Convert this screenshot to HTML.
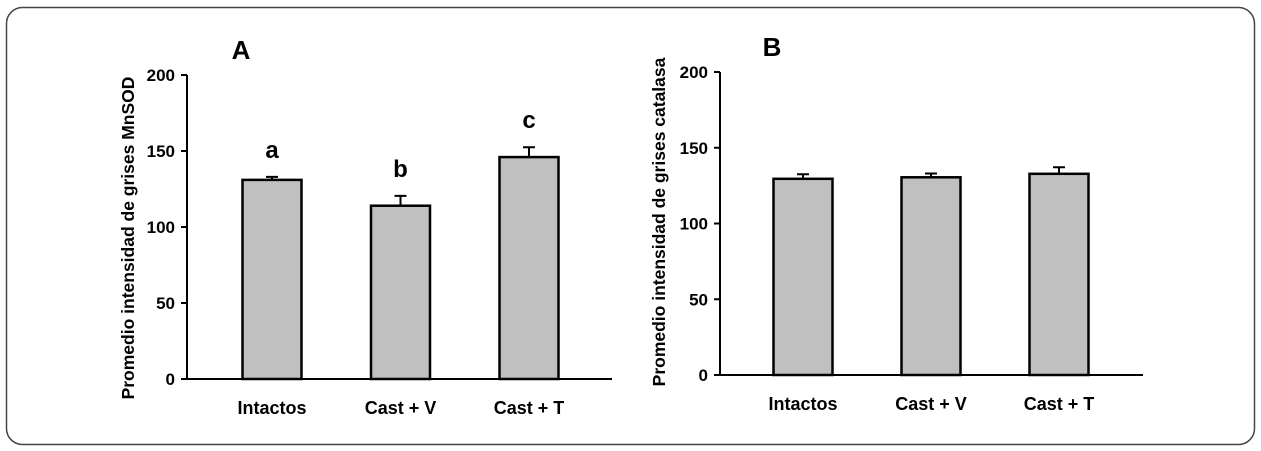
<!DOCTYPE html>
<html><head><meta charset="utf-8"><style>
html,body{margin:0;padding:0;background:#fff;}
svg{display:block;font-family:"Liberation Sans",Arial,sans-serif;font-weight:bold;}
</style></head><body>
<svg id="s" width="1261" height="451" xmlns="http://www.w3.org/2000/svg">
<rect x="6.5" y="7.5" width="1248" height="437" rx="16" fill="#fff" stroke="#444" stroke-width="1.5"/>
<g id="gA"></g>
<g id="gB"></g>
</svg>
<script>
const categories = ["Intactos", "Cast + V", "Cast + T"];
const valuesA = [131, 114, 146];
const errorsA = [2, 6.5, 6.5];
const lettersA = ["a", "b", "c"];
const valuesB = [129.5, 130.5, 132.8];
const errorsB = [3, 2.5, 4.3];
const yTicks = [0, 50, 100, 150, 200];
const NS = "http://www.w3.org/2000/svg";
function mk(parent, tag, attrs, text) {
  const e = document.createElementNS(NS, tag);
  for (const k in attrs) e.setAttribute(k, attrs[k]);
  if (text !== undefined) e.textContent = text;
  parent.appendChild(e);
  return e;
}
function draw(g, cfg, values, errors, letters, title, ylabel) {
  const y = v => cfg.y0 - (v / 200) * (cfg.y0 - cfg.y200);
  const bw = 59;
  const xc = i => cfg.c0 + i * cfg.step;
  let e = mk(g, "line", {x1: cfg.ax, y1: cfg.y200, x2: cfg.ax, y2: cfg.y0 + 1, stroke: "#000", "stroke-width": 2});
  
  
  e = mk(g, "line", {x1: cfg.ax - 1, y1: cfg.y0, x2: cfg.xend, y2: cfg.y0, stroke: "#000", "stroke-width": 2});
  
  
  yTicks.forEach(t => {
    const tk = mk(g, "line", {x1: cfg.ax - 6, y1: y(t), x2: cfg.ax, y2: y(t), stroke: "#000", "stroke-width": 2});
    
    
    const tl = mk(g, "text", {x: cfg.ax - 12, y: y(t) + 6, "text-anchor": "end", "font-size": 17}, String(t));
    
    
  });
  values.forEach((v, i) => {
    const cx = xc(i);
    const eb = mk(g, "path", {d: `M${cx},${y(v)} V${y(v + errors[i])} M${cx - 6},${y(v + errors[i])} H${cx + 6}`, stroke: "#000", "stroke-width": 2, fill: "none"});
    
    
    const b = mk(g, "rect", {x: cx - bw / 2, y: y(v), width: bw, height: y(0) - y(v), fill: "#c0c0c0", stroke: "#000", "stroke-width": 2.5});
    
    
    const xl = mk(g, "text", {x: cx, y: cfg.y0 + 35, "text-anchor": "middle", "font-size": 18}, categories[i]);
    
    
    if (letters) {
      const lt = mk(g, "text", {x: cx, y: y(v + errors[i]) - 19, "text-anchor": "middle", "font-size": 24}, letters[i]);
      
      
    }
  });
  const tt = mk(g, "text", {x: cfg.titleX, y: cfg.titleY, "text-anchor": "middle", "font-size": 26}, title);
  
  
  const yl = mk(g, "text", {x: 0, y: 0, "text-anchor": "middle", "font-size": 17.5, transform: `translate(${cfg.ylx},${cfg.yly}) rotate(-90)`}, ylabel);
  
  
}
draw(document.getElementById("gA"), {ax: 187, y0: 379, y200: 75, xend: 612, c0: 272, step: 128.5, titleX: 241, titleY: 59, ylx: 134, yly: 238}, valuesA, errorsA, lettersA, "A", "Promedio intensidad de grises MnSOD");
draw(document.getElementById("gB"), {ax: 720, y0: 375, y200: 72, xend: 1143, c0: 803, step: 128, titleX: 772, titleY: 56, ylx: 665, yly: 222}, valuesB, errorsB, null, "B", "Promedio intensidad de grises catalasa");
</script>
</body></html>
